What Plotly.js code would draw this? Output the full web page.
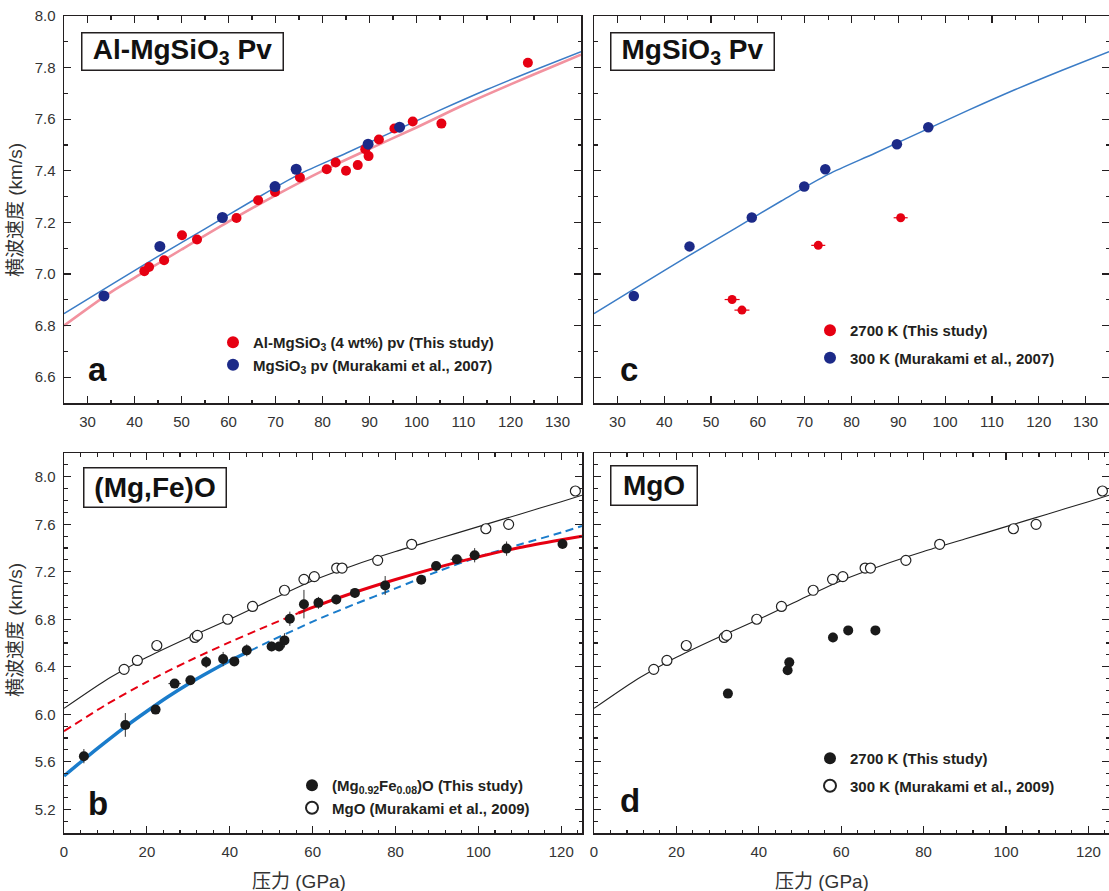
<!DOCTYPE html>
<html>
<head>
<meta charset="utf-8">
<script src="https://cdn.plot.ly/plotly-3.0.1.min.js"></script>
<style>html,body{margin:0;padding:0;background:#fff;}#chart{width:1109px;height:891px;}</style>
</head>
<body>
<div id="chart"></div>
<script>
// ---------- Panel a : Al-MgSiO3 Pv ----------
const aRedP = [42.1,43.1,46.3,50.1,53.3,61.7,66.3,69.9,75.2,80.9,82.8,85.0,87.5,89.1,89.8,92.0,95.3,99.2,105.3,123.7];
const aRedV = [7.011,7.027,7.053,7.150,7.134,7.217,7.286,7.318,7.374,7.406,7.432,7.400,7.422,7.484,7.457,7.521,7.564,7.591,7.583,7.819];
const pvBlueP = [33.5,45.4,58.7,69.9,74.4,89.7,96.4];
const pvBlueV = [6.915,7.107,7.219,7.339,7.406,7.503,7.569];
const pvFitP = [25,35,45,55,65,75,85,95,105,115,125,135];
const pvFitV = [6.846,6.958,7.068,7.175,7.283,7.386,7.468,7.552,7.635,7.715,7.790,7.862];
const alFitP = [25,35,42,50,60,70,80,90,100,110,120,130,135];
const alFitV = [6.800,6.930,7.007,7.095,7.203,7.305,7.400,7.485,7.568,7.655,7.735,7.812,7.850];

// ---------- Panel c : MgSiO3 Pv ----------
const cRedP = [54.5,56.6,72.9,90.5];
const cRedV = [6.901,6.860,7.111,7.218];
const cRedPerr = [1.6,1.6,1.5,1.5];
const cRedVerr = [0.015,0.008,0.008,0.008];

// ---------- Panel b : (Mg,Fe)O ----------
const bBlackP = [4.8,14.8,22.1,26.7,30.5,34.3,38.4,41.1,44.1,50.1,51.9,53.2,54.5,57.9,61.4,65.7,70.2,77.5,86.2,89.8,94.8,99.1,106.8,120.3];
const bBlackV = [5.647,5.910,6.039,6.258,6.286,6.440,6.465,6.445,6.538,6.571,6.571,6.622,6.804,6.927,6.938,6.966,7.022,7.084,7.132,7.249,7.305,7.339,7.395,7.434];
const bBlackVerr = [0.06,0.10,0.02,0.03,0.03,0.05,0.06,0.03,0.05,0.04,0.04,0.06,0.06,0.12,0.05,0.04,0.04,0.08,0.03,0.03,0.03,0.06,0.06,0.03];
const bBlackPerr = [0,0,0,1.5,0,0,0,0,0,0,0,0,0,0,0,0,0,0,0,1.2,1.5,1.2,0,0];
const mgoP = [14.5,17.7,22.4,31.6,32.2,39.5,45.5,53.2,57.9,60.4,65.8,67.1,75.7,83.9,101.8,107.3,123.4];
const mgoV = [6.378,6.453,6.579,6.647,6.664,6.800,6.908,7.044,7.136,7.159,7.231,7.231,7.296,7.431,7.562,7.599,7.880];
const mgoFitP = [0,10,15,20,30,40,50,60,70,80,90,100,110,120,125];
const mgoFitV = [6.050,6.285,6.385,6.480,6.645,6.800,6.965,7.125,7.255,7.370,7.475,7.580,7.685,7.790,7.845];
const redDashP = [0,10,20,30,40,50,56.5];
const redDashV = [5.857,6.077,6.272,6.447,6.607,6.757,6.851];
const redSolidP = [56.5,60,70,80,90,100,110,120,125];
const redSolidV = [6.851,6.900,7.025,7.135,7.235,7.325,7.405,7.470,7.500];
const blueSolidP = [0,5,10,15,20,25,30,35,40,45];
const blueSolidV = [5.480,5.625,5.765,5.900,6.025,6.145,6.255,6.355,6.450,6.535];
const blueDashP = [45,50,55,60,70,80,90,100,110,120,125];
const blueDashV = [6.535,6.620,6.700,6.780,6.925,7.060,7.200,7.325,7.430,7.530,7.585];

// ---------- Panel d : MgO ----------
const dBlackP = [32.5,47.0,47.4,58.0,61.7,68.3];
const dBlackV = [6.174,6.370,6.437,6.647,6.706,6.706];
const dBlackVerr = [0,0,0,0.04,0,0];

// ---------- Text ----------
const panelTitles = ['Al-MgSiO<sub>3</sub> Pv','MgSiO<sub>3</sub> Pv','(Mg,Fe)O','MgO'];
const panelLetters = ['a','c','b','d'];
const yTitle = '横波速度 (km/s)';
const xTitle = '压力 (GPa)';
const legA = ['Al-MgSiO<sub>3</sub> (4 wt%) pv (This study)','MgSiO<sub>3</sub> pv (Murakami et al., 2007)'];
const legC = ['2700 K (This study)','300 K (Murakami et al., 2007)'];
const legB = ['(Mg<sub>0.92</sub>Fe<sub>0.08</sub>)O (This study)','MgO (Murakami et al., 2009)'];
const legD = ['2700 K (This study)','300 K (Murakami et al., 2009)'];

// ---------- Styles ----------
const W = 1109, H = 891;
const RED = '#e60012', NAVY = '#1c2a88', LBLUE = '#3b7cc6', PINK = '#f2929f', INK = '#231f20';
const BBLUE = '#1a7ccb';
const px = v => v / W, py = v => 1 - v / H;
const fontSans = 'Liberation Sans, Arial, Helvetica, sans-serif';
const fontCJK = 'Liberation Sans, Arial, "Noto Sans CJK SC", sans-serif';

function line(x, y, xa, ya, color, width, dash) {
  return {x, y, xaxis: xa, yaxis: ya, type: 'scatter', mode: 'lines', showlegend: false, hoverinfo: 'skip',
    line: {color, width, dash: dash || 'solid', shape: 'spline', smoothing: 0.8}};
}
function pts(x, y, xa, ya, name, legend, marker, extra) {
  return Object.assign({x, y, xaxis: xa, yaxis: ya, type: 'scatter', mode: 'markers', name, legend, marker, cliponaxis: false}, extra || {});
}

const traces = [
  // a
  line(alFitP, alFitV, 'x', 'y', PINK, 2.6),
  line(pvFitP, pvFitV, 'x', 'y', LBLUE, 1.5),
  pts(aRedP, aRedV, 'x', 'y', legA[0], 'legend', {color: RED, size: 10}),
  pts(pvBlueP, pvBlueV, 'x', 'y', legA[1], 'legend', {color: NAVY, size: 11}),
  // c
  line(pvFitP, pvFitV, 'x2', 'y2', LBLUE, 1.5),
  pts(cRedP, cRedV, 'x2', 'y2', legC[0], 'legend2', {color: RED, size: 9},
      {legendgroup: 'c1', error_x: {type: 'data', array: cRedPerr, color: RED, thickness: 1.2, width: 0},
       error_y: {type: 'data', array: cRedVerr, color: RED, thickness: 1.2, width: 0}}),
  pts(pvBlueP, pvBlueV, 'x2', 'y2', legC[1], 'legend2', {color: NAVY, size: 10.5}, {legendgroup: 'c2'}),
  // b
  line(mgoFitP, mgoFitV, 'x3', 'y3', '#222', 1.1),
  line(redDashP, redDashV, 'x3', 'y3', RED, 2, '8px,5px'),
  line(blueDashP, blueDashV, 'x3', 'y3', BBLUE, 2, '8px,5px'),
  line(redSolidP, redSolidV, 'x3', 'y3', RED, 3),
  line(blueSolidP, blueSolidV, 'x3', 'y3', BBLUE, 3.5),
  pts(bBlackP, bBlackV, 'x3', 'y3', legB[0], 'legend3', {color: '#1a1a1a', size: 10},
      {error_y: {type: 'data', array: bBlackVerr, color: '#333', thickness: 1, width: 0},
       error_x: {type: 'data', array: bBlackPerr, color: '#333', thickness: 1, width: 0}}),
  pts(mgoP, mgoV, 'x3', 'y3', legB[1], 'legend3', {color: '#fff', size: 10, line: {color: '#222', width: 1.2}}),
  // d
  line(mgoFitP, mgoFitV, 'x4', 'y4', '#222', 1.1),
  pts(dBlackP, dBlackV, 'x4', 'y4', legD[0], 'legend4', {color: '#1a1a1a', size: 10},
      {legendgroup: 'd1', error_y: {type: 'data', array: dBlackVerr, color: '#333', thickness: 1, width: 0}}),
  pts(mgoP, mgoV, 'x4', 'y4', legD[1], 'legend4', {color: '#fff', size: 10, line: {color: '#222', width: 1.2}}, {legendgroup: 'd2'})
];

function axis(domain, range, dtick, minorDtick, anchor, labels, fmt) {
  return {
    domain, range, anchor, dtick, tick0: 0, showgrid: false, zeroline: false,
    showline: true, linecolor: INK, linewidth: 1.5, mirror: 'ticks',
    ticks: 'inside', ticklen: 7, tickwidth: 1.2, tickcolor: INK,
    showticklabels: labels, tickformat: fmt || '', tickfont: {family: fontSans, size: 15, color: '#333'},
    ticklabelstandoff: 4,
    minor: {dtick: minorDtick, ticks: 'inside', ticklen: 3.5, tickwidth: 1.1, tickcolor: INK, showgrid: false}
  };
}

const dxA = [px(64), px(581)], dxC = [px(594), 1];
const dxB = [px(64), px(582)], dxD = [px(594), 1];
const dyTop = [py(403), py(16)], dyBot = [py(833), py(453)];

function legendCfg(x, top, gap) {
  return {x: px(x), y: py(top), xanchor: 'left', yanchor: 'top', bgcolor: 'rgba(0,0,0,0)', borderwidth: 0,
    font: {family: fontSans, size: 15, color: INK, weight: 'bold'}, itemsizing: 'constant',
    traceorder: gap ? 'grouped' : 'normal', tracegroupgap: gap || 0, itemclick: false};
}

function boxAnn(text, cx, cy, w, h) {
  return {text, xref: 'paper', yref: 'paper', x: px(cx), y: py(cy), xanchor: 'center', yanchor: 'middle',
    showarrow: false, width: w, height: h, borderpad: 0, bordercolor: INK, borderwidth: 1.5, bgcolor: '#fff',
    font: {family: fontSans, size: 28, color: '#111', weight: 'bold'}};
}
function letterAnn(text, cx, cy) {
  return {text, xref: 'paper', yref: 'paper', x: px(cx), y: py(cy), xanchor: 'center', yanchor: 'middle',
    showarrow: false, font: {family: fontSans, size: 33, color: '#111', weight: 'bold'}};
}
function yTitleAnn(cy) {
  return {text: yTitle, xref: 'paper', yref: 'paper', x: px(15), y: py(cy), xanchor: 'center', yanchor: 'middle',
    textangle: -90, showarrow: false, font: {family: fontCJK, size: 19, color: '#333'}};
}
function xTitleAnn(cx) {
  return {text: xTitle, xref: 'paper', yref: 'paper', x: px(cx), y: py(881), xanchor: 'center', yanchor: 'middle',
    showarrow: false, font: {family: fontCJK, size: 19, color: '#333'}};
}

const layout = {
  width: W, height: H, margin: {l: 0, r: 0, t: 0, b: 0},
  paper_bgcolor: '#fff', plot_bgcolor: '#fff',
  xaxis: axis(dxA, [25, 135], 10, 5, 'y', true),
  yaxis: axis(dyTop, [6.5, 8.0], 0.2, 0.1, 'x', true, '.1f'),
  xaxis2: axis(dxC, [25, 135], 10, 5, 'y2', true),
  yaxis2: axis(dyTop, [6.5, 8.0], 0.2, 0.1, 'x2', false, '.1f'),
  xaxis3: axis(dxB, [0, 125], 20, 4, 'y3', true),
  yaxis3: axis(dyBot, [5.0, 8.2], 0.4, 0.1, 'x3', true, '.1f'),
  xaxis4: axis(dxD, [0, 125], 20, 4, 'y4', true),
  yaxis4: axis(dyBot, [5.0, 8.2], 0.4, 0.1, 'x4', false, '.1f'),
  legend: legendCfg(213, 326, 0),
  legend2: legendCfg(810, 314, 5),
  legend3: legendCfg(292, 769, 0),
  legend4: legendCfg(810, 742, 5),
  annotations: [
    boxAnn(panelTitles[0], 182.5, 51.5, 200, 36),
    boxAnn(panelTitles[1], 692.5, 51.5, 162, 36),
    boxAnn(panelTitles[2], 155, 488, 141, 38),
    boxAnn(panelTitles[3], 654, 485.5, 85, 38),
    letterAnn(panelLetters[0], 97, 369),
    letterAnn(panelLetters[1], 629, 369),
    letterAnn(panelLetters[2], 98, 803),
    letterAnn(panelLetters[3], 630, 800),
    yTitleAnn(210), yTitleAnn(630),
    xTitleAnn(299), xTitleAnn(822)
  ]
};

Plotly.newPlot('chart', traces, layout, {displayModeBar: false, staticPlot: true});
</script>
</body>
</html>
